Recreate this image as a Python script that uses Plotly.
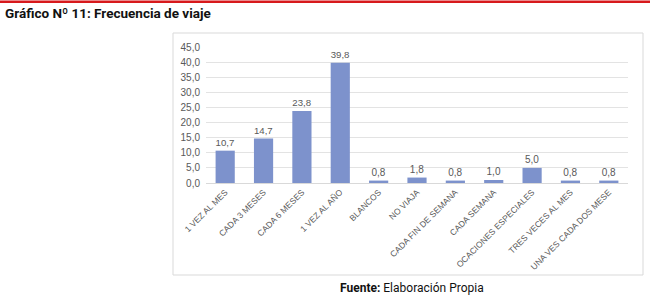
import plotly.graph_objects as go

categories = ["1 VEZ AL MES", "CADA 3 MESES", "CADA 6 MESES", "1 VEZ AL AÑO", "BLANCOS",
              "NO VIAJA", "CADA FIN DE SEMANA", "CADA SEMANA", "OCACIONES ESPECIALES",
              "TRES VECES AL MES", "UNA VES CADA DOS MESE"]
values = [10.7, 14.7, 23.8, 39.8, 0.8, 1.8, 0.8, 1.0, 5.0, 0.8, 0.8]
y_ticks = [0, 5, 10, 15, 20, 25, 30, 35, 40, 45]
y_tick_labels = [f"{v:.1f}".replace(".", ",") for v in y_ticks]
bar_labels = [f"{v:.1f}".replace(".", ",") for v in values]

W, H = 650, 308
L, R, T, B = 206, 22, 47, 125
pw, ph = W - L - R, H - T - B

def px_x(x):
    return (x - L) / pw

def px_y(y):
    return (H - B - y) / ph

fig = go.Figure()
fig.add_trace(go.Bar(
    x=categories, y=values, text=bar_labels, textposition="outside",
    textfont=dict(size=10, color="#595959"),
    marker=dict(color="#7d92cc", line=dict(width=0)),
    width=0.5, cliponaxis=False,
))

fig.update_layout(
    width=W, height=H, margin=dict(l=L, r=R, t=T, b=B),
    paper_bgcolor="white", plot_bgcolor="white", showlegend=False,
    font=dict(family="Liberation Sans, Arial, sans-serif", color="#595959"),
    xaxis=dict(tickangle=-45, tickfont=dict(size=8.5, color="#595959"),
               showgrid=False, showline=True, linecolor="#d9d9d9", linewidth=1,
               ticks="", fixedrange=True, automargin=False),
    yaxis=dict(range=[0, 45], tickvals=y_ticks, ticktext=y_tick_labels,
               tickfont=dict(size=10, color="#595959"), showgrid=True,
               gridcolor="#e3e3e3", gridwidth=1, zeroline=False, showline=False,
               ticks="", ticklabelstandoff=5, fixedrange=True, automargin=False),
    shapes=[
        dict(type="rect", xref="paper", yref="paper",
             x0=px_x(173), x1=px_x(643), y0=px_y(275), y1=px_y(33),
             line=dict(color="#d9d9d9", width=1), fillcolor="rgba(0,0,0,0)", layer="below"),
        dict(type="rect", xref="paper", yref="paper",
             x0=px_x(0), x1=px_x(650), y0=px_y(3), y1=px_y(0.5),
             line=dict(width=0), fillcolor="#d7191c", layer="above"),
    ],
    annotations=[
        dict(text="<b>Gráfico Nº 11: Frecuencia de viaje</b>", xref="paper", yref="paper",
             x=px_x(3), y=px_y(13), xanchor="left", yanchor="middle", showarrow=False,
             font=dict(size=13.5, color="#111111", family="Roboto, Liberation Sans, sans-serif")),
        dict(text="<b>Fuente:</b> Elaboración Propia", xref="paper", yref="paper",
             x=px_x(412), y=px_y(288), xanchor="center", yanchor="middle", showarrow=False,
             font=dict(size=12, color="#111111", family="Roboto, Liberation Sans, sans-serif")),
    ],
)

fig.write_html("out.html", config={"displayModeBar": False},
               post_script="document.body.style.margin='0px';")
